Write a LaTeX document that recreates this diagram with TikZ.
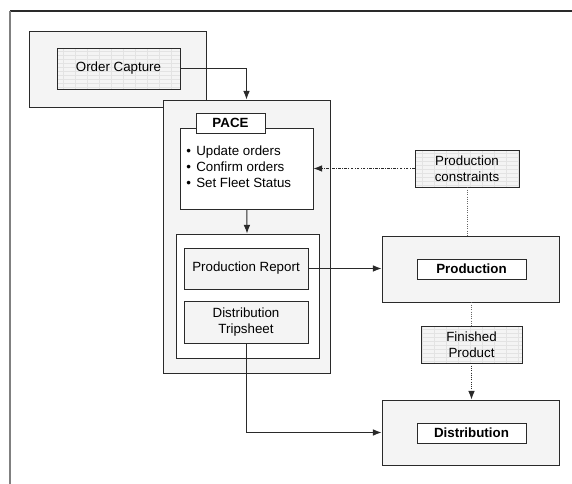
\documentclass[tikz,border=0pt]{standalone}
\usepackage{fontspec}
\setmainfont{Liberation Sans}
\usetikzlibrary{arrows.meta}

\definecolor{boxgray}{HTML}{F4F4F4}
\definecolor{linegray}{HTML}{2A2A2A}

\tikzstyle{outer} = [rectangle, draw=linegray, line width=0.7pt, fill=boxgray, inner sep=0pt]
\tikzstyle{inner} = [rectangle, draw=linegray, line width=0.7pt, fill=white, inner sep=0pt, align=center]
\tikzstyle{plain} = [rectangle, draw=linegray, line width=0.7pt, fill=boxgray, inner sep=0pt, align=center]
\tikzstyle{gridded} = [rectangle, draw=linegray, line width=0.7pt, fill=boxgray, inner sep=0pt, align=center,
	path picture={\draw[gray!22, xstep=9pt, ystep=3pt]
		(path picture bounding box.south west) grid (path picture bounding box.north east);}]
\tikzstyle{flow} = [draw=linegray, line width=0.7pt, -{Latex[length=6.5pt,width=5pt]}]

\begin{document}
\begin{tikzpicture}[x=0.75pt,y=-0.75pt,font=\fontsize{10}{12}\selectfont]
\useasboundingbox (0,0) rectangle (572,484);
% page frame
\draw[linegray, line width=0.9pt] (10,11) -- (572,11);
\draw[gray, line width=0.9pt] (10,11) -- (10,484);

% order capture
\node [outer, minimum width=132.75pt, minimum height=57pt] (capout) at (117.5,69) {};
\node [gridded, minimum width=92.25pt, minimum height=30.75pt] (capin) at (118.5,68.5) {Order Capture};

% PACE block
\node [outer, minimum width=125.25pt, minimum height=204.75pt] (paceout) at (246.5,236.5) {};
\node [inner, minimum width=99.75pt, minimum height=60.75pt] (pacein) at (246.5,168.5) {};
\node [inner, minimum width=51.75pt, minimum height=15pt, font=\fontsize{10}{12}\selectfont\bfseries] (pacelabel) at (230.5,123) {PACE};
\node [anchor=north west, align=left, inner sep=0pt] (tasks) at (186,146) {%
	\textbullet\hspace{4pt}Update orders\\
	\textbullet\hspace{4pt}Confirm orders\\
	\textbullet\hspace{4pt}Set Fleet Status};
\node [inner, minimum width=107.25pt, minimum height=93pt] (reports) at (247.5,296) {};
\node [plain, minimum width=93pt, minimum height=30.75pt] (prodrep) at (246,268.5) {Production Report};
\node [plain, minimum width=93pt, minimum height=31.5pt] (disttrip) at (246,322) {Distribution\\Tripsheet};

% production side
\node [gridded, minimum width=78pt, minimum height=27.75pt] (constr) at (467,168.5) {Production\\constraints};
\node [outer, minimum width=132.75pt, minimum height=49.5pt] (prodout) at (470.5,269) {};
\node [inner, minimum width=81.75pt, minimum height=15pt, font=\fontsize{10}{12}\selectfont\bfseries] (prodin) at (471.5,269) {Production};
\node [gridded, minimum width=75.75pt, minimum height=27.75pt] (finished) at (471.5,344.5) {Finished\\Product};
\node [outer, minimum width=132.75pt, minimum height=48.75pt] (distout) at (470.5,432.5) {};
\node [inner, minimum width=81.75pt, minimum height=15pt, font=\fontsize{10}{12}\selectfont\bfseries] (distin) at (471.5,433) {Distribution};

% connectors
\draw [flow] (capin.east) -| (paceout.north);
\draw [flow] (pacein) -- (reports);
\draw [flow] (prodrep.east) -- (prodrep.east -| prodout.west);
\draw [flow, dash pattern=on 2pt off 1pt on 0.6pt off 1pt] (constr.west) -- (constr.west -| pacein.east);
\draw [gray!80!black, line width=0.7pt, densely dotted] (constr) -- (constr |- prodout.north);
\draw [gray!80!black, line width=0.7pt, densely dotted] (prodout.south -| finished) -- (finished);
\draw [flow, densely dotted] (finished) -- (finished |- distout.north);
\draw [flow] (disttrip.south) |- (distout.west);
\end{tikzpicture}
\end{document}
